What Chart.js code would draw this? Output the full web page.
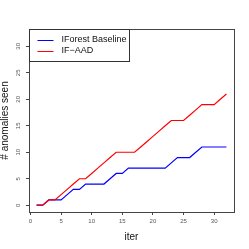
<!DOCTYPE html>
<html>
<head>
<meta charset="utf-8">
<script src="https://cdn.jsdelivr.net/npm/chart.js@4"></script>
<style>
  body { margin: 0; background: #fff; }
  canvas { display: block; }
</style>
</head>
<body>
<canvas id="anomalyChart" width="249" height="249"></canvas>
<script>
// values
const iterations = [1, 2, 3, 4, 5, 6, 7, 8, 9, 10, 11, 12, 13, 14, 15, 16,
  17, 18, 19, 20, 21, 22, 23, 24, 25, 26, 27, 28, 29, 30, 31, 32];
const baselineSeen = [0, 0, 1, 1, 1, 2, 3, 3, 4, 4, 4, 4, 5, 6, 6, 7,
  7, 7, 7, 7, 7, 7, 8, 9, 9, 9, 10, 11, 11, 11, 11, 11];
const aadSeen = [0, 0, 1, 1, 2, 3, 4, 5, 5, 6, 7, 8, 9, 10, 10, 10,
  10, 11, 12, 13, 14, 15, 16, 16, 16, 17, 18, 19, 19, 19, 20, 21];
const xTicks = [0, 5, 10, 15, 20, 25, 30];
const yTicks = [0, 5, 10, 15, 20, 25, 30];

function toPoints(values) {
  return iterations.map((it, i) => ({ x: it, y: values[i] }));
}

// box round the plot + legend in the top left corner
const boxAndLegend = {
  id: 'boxAndLegend',
  afterDraw(chart) {
    const ctx = chart.ctx;
    const area = chart.chartArea;
    ctx.save();
    ctx.strokeStyle = '#444';
    ctx.lineWidth = 1;
    ctx.strokeRect(Math.round(area.left) + 0.5, Math.round(area.top) + 0.5,
      Math.round(area.right - area.left), Math.round(area.bottom - area.top));

    const lx = Math.round(area.left) + 0.5;
    const ly = Math.round(area.top) + 0.5;
    ctx.fillStyle = '#fff';
    ctx.fillRect(lx, ly, 100, 32);
    ctx.strokeStyle = '#333';
    ctx.strokeRect(lx, ly, 100, 32);

    ctx.font = '9px "Liberation Sans", Arial, sans-serif';
    ctx.textBaseline = 'middle';
    chart.data.datasets.forEach((ds, i) => {
      const y = ly + 10.5 + i * 10.6;
      ctx.strokeStyle = ds.borderColor;
      ctx.beginPath();
      ctx.moveTo(lx + 8, Math.round(y) + 0.5);
      ctx.lineTo(lx + 24, Math.round(y) + 0.5);
      ctx.stroke();
      ctx.fillStyle = '#111';
      ctx.fillText(ds.label, lx + 32, y);
    });
    ctx.restore();
  }
};

const ctx = document.getElementById('anomalyChart').getContext('2d');
const anomalyChart = new Chart(ctx, {
  type: 'line',
  data: {
    datasets: [
      {
        label: 'IForest Baseline',
        data: toPoints(baselineSeen),
        borderColor: '#0000ff',
        borderWidth: 1.2,
        pointRadius: 0,
        tension: 0,
        order: 2
      },
      {
        label: 'IF\u2212AAD',
        data: toPoints(aadSeen),
        borderColor: '#ff0000',
        borderWidth: 1.2,
        pointRadius: 0,
        tension: 0,
        order: 1
      }
    ]
  },
  options: {
    responsive: false,
    animation: false,
    layout: { padding: { top: 29, right: 15, left: 0, bottom: 0 } },
    plugins: {
      legend: { display: false },
      tooltip: { enabled: false }
    },
    scales: {
      x: {
        type: 'linear',
        min: -0.24,
        max: 33.24,
        afterBuildTicks: scale => { scale.ticks = xTicks.map(v => ({ value: v })); },
        afterFit: scale => { scale.height = 37; },
        grid: { drawOnChartArea: false, drawTicks: true, tickLength: 3, color: '#444' },
        border: { display: false },
        ticks: {
          font: { size: 6, family: '"Liberation Sans", Arial, sans-serif' },
          color: '#555',
          padding: 3,
          maxRotation: 0,
          autoSkip: false
        },
        title: {
          display: true,
          text: 'iter',
          font: { size: 10, family: '"Liberation Sans", Arial, sans-serif', lineHeight: 1 },
          color: '#111',
          padding: { top: 0, bottom: 7 }
        }
      },
      y: {
        min: -1.28,
        max: 33.28,
        afterBuildTicks: scale => { scale.ticks = yTicks.map(v => ({ value: v })); },
        afterFit: scale => { scale.width = 29; },
        grid: { drawOnChartArea: false, drawTicks: true, tickLength: 3, color: '#444' },
        border: { display: false },
        ticks: {
          font: { size: 6, family: '"Liberation Sans", Arial, sans-serif' },
          color: '#555',
          padding: 4,
          minRotation: 90,
          maxRotation: 90,
          crossAlign: 'center',
          autoSkip: false
        },
        title: {
          display: true,
          text: '# anomalies seen',
          font: { size: 10, family: '"Liberation Sans", Arial, sans-serif', lineHeight: 1 },
          color: '#111',
          padding: { top: 0, bottom: 0 }
        }
      }
    }
  },
  plugins: [boxAndLegend]
});
</script>
</body>
</html>
